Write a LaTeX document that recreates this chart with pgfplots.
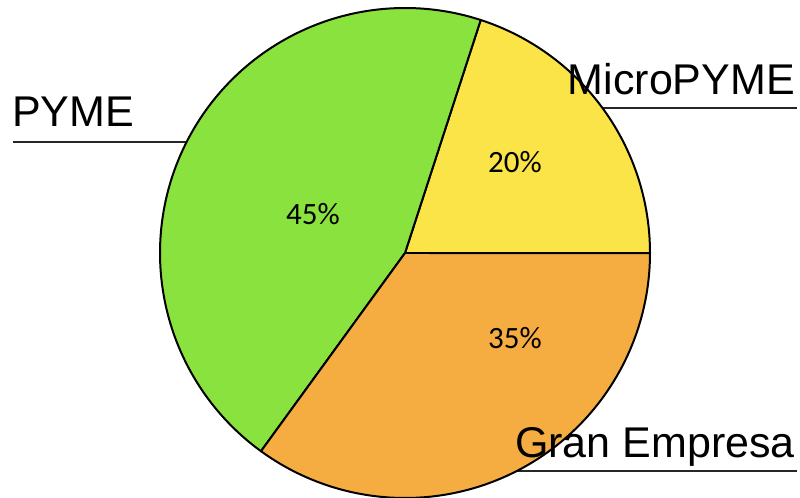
\documentclass[border=0pt]{standalone}
\usepackage{pgfplots}
\pgfplotsset{compat=1.18}
\usepackage{fontspec}
\setmainfont{Liberation Sans}
\newfontfamily\calibri{Carlito}
\definecolor{cMicro}{RGB}{250,228,72}
\definecolor{cPyme}{RGB}{138,226,62}
\definecolor{cGran}{RGB}{245,173,66}
% shares in percent
\def\vMicro{20}
\def\vPyme{45}
\def\vGran{35}
\def\cx{405}
\def\cy{244}
\def\rr{245}
\begin{document}
\begin{tikzpicture}
\pgfmathsetmacro{\aA}{0}
\pgfmathsetmacro{\aB}{\aA+3.6*\vMicro}
\pgfmathsetmacro{\aC}{\aB+3.6*\vPyme}
\pgfmathsetmacro{\aD}{\aC+3.6*\vGran}
\begin{axis}[
  scale only axis, width=800bp, height=497bp,
  xmin=0, xmax=800, ymin=0, ymax=497,
  axis lines=none, clip=true,
]
% leader lines
\addplot[draw=black!85, line width=2.4pt, no marks] coordinates {(13,355) (190,355)};
\addplot[draw=black!85, line width=2.4pt, no marks] coordinates {(590,389) (797,389)};
\addplot[draw=black!85, line width=2.4pt, no marks] coordinates {(505,26) (797,26)};
% wedges
\addplot[fill=cMicro, draw=black, line width=2pt, line join=round, domain=\aA:\aB, samples=80, smooth] ({\cx+\rr*cos(x)},{\cy+\rr*sin(x)}) -- (axis cs:\cx,\cy) -- cycle;
\addplot[fill=cPyme, draw=black, line width=2pt, line join=round, domain=\aB:\aC, samples=120, smooth] ({\cx+\rr*cos(x)},{\cy+\rr*sin(x)}) -- (axis cs:\cx,\cy) -- cycle;
\addplot[fill=cGran, draw=black, line width=2pt, line join=round, domain=\aC:\aD, samples=100, smooth] ({\cx+\rr*cos(x)},{\cy+\rr*sin(x)}) -- (axis cs:\cx,\cy) -- cycle;
% labels
\node[anchor=base west, inner sep=0, font=\fontsize{43bp}{50bp}\selectfont] at (axis cs:12,370) {PYME};
\node[anchor=base east, inner sep=0, font=\fontsize{43bp}{50bp}\selectfont] at (axis cs:795,402) {MicroPYME};
\node[anchor=base east, inner sep=0, font=\fontsize{43bp}{50bp}\selectfont] at (axis cs:795,40) {Gran Empresa};
\node[inner sep=0, font=\calibri\fontsize{31bp}{36bp}\selectfont] at (axis cs:515,335) {\vMicro\%};
\node[inner sep=0, font=\calibri\fontsize{31bp}{36bp}\selectfont] at (axis cs:313,283) {\vPyme\%};
\node[inner sep=0, font=\calibri\fontsize{31bp}{36bp}\selectfont] at (axis cs:515,159) {\vGran\%};
\end{axis}
\pgfresetboundingbox
\path[use as bounding box] (current axis.south west) rectangle (current axis.north east);
\end{tikzpicture}
\end{document}
